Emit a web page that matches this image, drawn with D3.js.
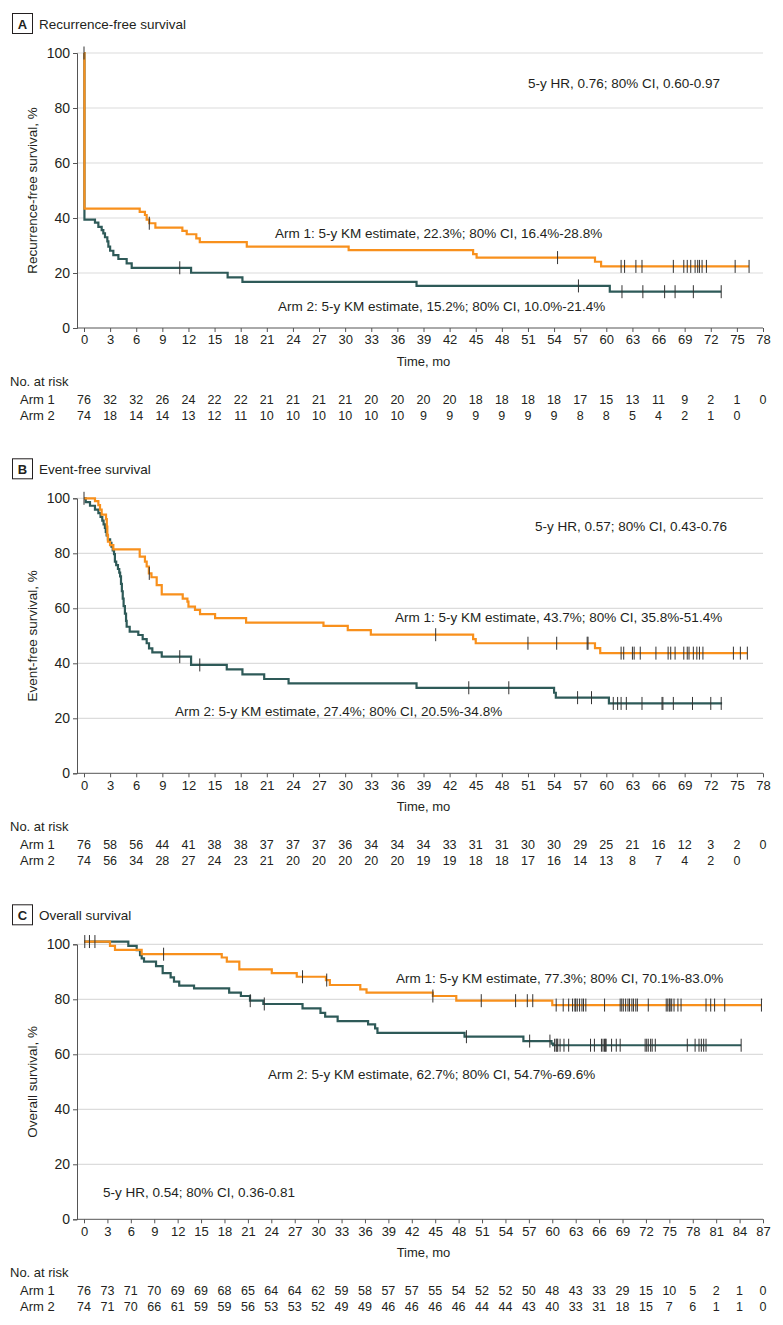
<!DOCTYPE html>
<html><head><meta charset="utf-8">
<script src="https://cdn.jsdelivr.net/npm/d3@7/dist/d3.min.js"></script>
<style>
body{margin:0;background:#fff}
svg{display:block}
text{font-family:"Liberation Sans",Arial,sans-serif;fill:#231f20}
</style>
</head><body>
<svg id="chart" width="783" height="1325"></svg>
<script>
// ---------- Data ----------
const ticks78 = [0,3,6,9,12,15,18,21,24,27,30,33,36,39,42,45,48,51,54,57,60,63,66,69,72,75,78];
const ticks87 = [0,3,6,9,12,15,18,21,24,27,30,33,36,39,42,45,48,51,54,57,60,63,66,69,72,75,78,81,84,87];
const yTicks = [0,20,40,60,80,100];

// Panel A: Recurrence-free survival  [time (mo), survival %]
const rfsArm1 = [[0,100],[0.05,43.4],[6.4,42.2],[7.0,41.1],[7.2,39.4],[7.5,38.1],[8.2,36.5],[11.3,35.3],[11.8,34.1],[12.9,32.6],[13.3,31.2],[18.7,29.6],[30.4,28.3],[44.7,26.9],[45.1,25.6],[58.7,24.1],[59.4,22.4],[76.4,22.4]];
const rfsArm2 = [[0,100],[0.05,39.4],[1.26,38.3],[1.65,36.8],[2.03,35.6],[2.22,34.4],[2.41,33.0],[2.68,31.5],[2.8,29.6],[3.0,28.1],[3.37,26.5],[3.95,25.1],[4.9,23.5],[5.48,21.9],[12.3,20.1],[16.5,18.4],[18.2,16.8],[38.2,15.3],[60.4,13.2],[73.2,13.2]];
const rfsCens1 = [7.5,54.4,61.7,62.1,63.4,64.1,67.7,68.9,69.3,69.7,70.2,70.5,70.7,71.0,71.5,74.8,76.4];
const rfsCens2 = [0,11.0,56.8,61.8,64.2,66.7,67.9,70.0,73.2];
const rfsRisk1 = [76,32,32,26,24,22,22,21,21,21,21,20,20,20,20,18,18,18,18,17,15,13,11,9,2,1,0];
const rfsRisk2 = [74,18,14,14,13,12,11,10,10,10,10,10,10,9,9,9,9,9,9,8,8,5,4,2,1,0];

// Panel B: Event-free survival
const efsArm1 = [[0,100],[1.26,99.0],[1.65,97.5],[1.84,95.9],[2.03,94.1],[2.53,92.4],[2.62,89.7],[2.68,86.7],[2.75,84.2],[2.99,83.0],[3.37,81.4],[6.4,78.8],[7.0,77.0],[7.2,75.2],[7.45,72.7],[7.75,71.3],[8.35,68.4],[8.93,65.1],[11.34,63.5],[11.88,62.4],[12.0,60.6],[12.75,59.4],[13.33,57.9],[15.06,56.4],[18.62,54.8],[27.51,53.6],[30.3,52.1],[32.95,50.4],[44.7,48.8],[45.0,47.3],[58.7,45.5],[59.3,43.7],[76.2,43.7]];
const efsArm2 = [[0,100],[0.2,98.6],[0.69,97.3],[1.26,95.9],[1.65,94.6],[1.9,93.2],[2.1,91.9],[2.25,90.5],[2.4,89.2],[2.5,87.8],[2.6,86.5],[2.75,85.1],[3.0,83.8],[3.15,82.4],[3.3,81.1],[3.45,79.7],[3.55,77.0],[3.7,75.7],[3.9,74.3],[4.05,73.0],[4.15,71.6],[4.25,68.9],[4.35,66.2],[4.45,63.5],[4.55,60.8],[4.7,58.1],[4.83,55.4],[4.9,53.3],[5.25,51.5],[6.24,50.3],[6.74,48.8],[7.2,47.3],[7.47,45.4],[7.85,44.0],[8.93,42.4],[12.3,39.4],[16.4,37.8],[18.2,36.0],[20.7,34.3],[23.5,32.7],[38.2,31.1],[54.0,29.3],[54.2,27.5],[60.3,25.4],[73.3,25.4]];
const efsCens1 = [7.5,40.4,51.0,54.3,57.8,57.9,61.7,62.0,63.0,63.2,63.9,65.7,67.1,67.4,67.9,68.9,69.3,69.5,70.0,70.4,70.7,71.1,74.6,75.4,76.2];
const efsCens2 = [0,11.0,13.3,44.2,48.8,56.7,58.3,60.8,61.3,61.7,62.3,64.1,66.4,66.5,67.7,69.9,72.0,73.2];
const efsRisk1 = [76,58,56,44,41,38,38,37,37,37,36,34,34,34,33,31,31,30,30,29,25,21,16,12,3,2,0];
const efsRisk2 = [74,56,34,28,27,24,23,21,20,20,20,20,20,19,19,18,18,17,16,14,13,8,7,4,2,0];

// Panel C: Overall survival
const osArm1 = [[0,101.0],[3.33,99.4],[3.97,98.0],[7.39,96.4],[17.65,95.2],[18.3,93.7],[19.9,90.9],[24.06,89.5],[27.26,88.2],[31.0,87.0],[31.5,85.2],[35.4,83.6],[36.2,82.4],[44.7,81.2],[47.7,79.5],[60.0,77.9],[86.8,77.9]];
const osArm2 = [[0,101.0],[5.68,99.4],[6.75,97.9],[7.18,96.1],[7.39,94.9],[7.69,93.7],[9.23,92.1],[10.08,89.5],[11.1,88.0],[11.53,86.4],[12.2,85.0],[14.1,84.0],[18.6,82.4],[20.1,81.2],[21.27,79.5],[22.98,78.3],[28.0,76.7],[30.3,75.1],[30.9,73.7],[32.5,72.1],[36.4,70.9],[37.3,69.4],[37.6,67.8],[48.76,66.4],[56.3,64.8],[59.9,63.9],[60.1,63.3],[84.2,63.3]];
const osCens1 = [10.2,28.0,31.1,44.7,50.9,55.3,56.8,57.5,60.5,61.4,62.1,62.6,62.9,63.0,63.2,63.5,63.8,64.0,64.3,66.7,68.7,68.9,69.1,69.4,69.7,69.9,70.2,70.4,70.7,70.9,72.3,74.6,74.8,75.0,75.1,75.3,75.6,76.1,76.5,79.7,80.3,80.8,82.1,86.8];
const osCens2 = [0.1,0.7,1.4,21.3,23.1,49.0,57.1,59.7,60.3,60.5,60.6,60.7,61.0,61.5,62.1,64.9,65.4,66.3,66.5,66.7,66.8,66.9,67.6,68.2,68.7,71.9,72.1,72.3,72.6,72.8,73.2,77.3,78.3,78.8,79.1,79.4,79.7,84.2];
const osRisk1 = [76,73,71,70,69,69,68,65,64,64,62,59,58,57,57,55,54,52,52,50,48,43,33,29,15,10,5,2,1,0];
const osRisk2 = [74,71,70,66,61,59,59,56,53,53,52,49,49,46,46,46,46,44,44,43,40,33,31,18,15,7,6,1,1,0];

// ---------- Layout ----------
const COL1 = "#f8901c", COL2 = "#2e5a58", CENS = "#333333";
const svg = d3.select("#chart");

const panels = [
  {letter:"A", title:"Recurrence-free survival", ylab:"Recurrence-free survival, %",
   top:53, bottom:328, xmax:78, ticks:ticks78,
   arm1:rfsArm1, arm2:rfsArm2, c1:rfsCens1, c2:rfsCens2, r1:rfsRisk1, r2:rfsRisk2,
   notes:[{t:"5-y HR, 0.76; 80% CI, 0.60-0.97", x:528, y:88},
          {t:"Arm 1: 5-y KM estimate, 22.3%; 80% CI, 16.4%-28.8%", x:275, y:238},
          {t:"Arm 2: 5-y KM estimate, 15.2%; 80% CI, 10.0%-21.4%", x:278, y:311}]},
  {letter:"B", title:"Event-free survival", ylab:"Event-free survival, %",
   top:498.3, bottom:773.3, xmax:78, ticks:ticks78,
   arm1:efsArm1, arm2:efsArm2, c1:efsCens1, c2:efsCens2, r1:efsRisk1, r2:efsRisk2,
   notes:[{t:"5-y HR, 0.57; 80% CI, 0.43-0.76", x:535, y:531},
          {t:"Arm 1: 5-y KM estimate, 43.7%; 80% CI, 35.8%-51.4%", x:395, y:622},
          {t:"Arm 2: 5-y KM estimate, 27.4%; 80% CI, 20.5%-34.8%", x:175, y:716}]},
  {letter:"C", title:"Overall survival", ylab:"Overall survival, %",
   top:944.3, bottom:1219.3, xmax:87, ticks:ticks87,
   arm1:osArm1, arm2:osArm2, c1:osCens1, c2:osCens2, r1:osRisk1, r2:osRisk2,
   notes:[{t:"5-y HR, 0.54; 80% CI, 0.36-0.81", x:103, y:1197},
          {t:"Arm 1: 5-y KM estimate, 77.3%; 80% CI, 70.1%-83.0%", x:396, y:983},
          {t:"Arm 2: 5-y KM estimate, 62.7%; 80% CI, 54.7%-69.6%", x:268, y:1079}]}
];

const axisX = 77, xLeft = 84, xRight = 763;

function stepValue(data, t){
  let v = data[0][1];
  for (const d of data){ if (d[0] <= t) v = d[1]; else break; }
  return v;
}

panels.forEach(p => {
  const g = svg.append("g");
  const x = d3.scaleLinear().domain([0, p.xmax]).range([xLeft, xRight]);
  const y = d3.scaleLinear().domain([0, 100]).range([p.bottom, p.top]);

  // panel label box + title
  g.append("rect").attr("x",12.5).attr("y",p.top-39.5).attr("width",20).attr("height",20)
    .attr("fill","none").attr("stroke","#231f20").attr("stroke-width",1);
  g.append("text").attr("x",22.5).attr("y",p.top-24.5).attr("text-anchor","middle")
    .attr("font-weight","bold").attr("font-size",13).text(p.letter);
  g.append("text").attr("x",39).attr("y",p.top-24.5).attr("font-size",13.5).text(p.title);

  // grid
  g.selectAll("line.grid").data(yTicks.filter(d=>d>0)).join("line")
    .attr("x1",axisX).attr("x2",xRight).attr("y1",d=>y(d)).attr("y2",d=>y(d))
    .attr("stroke","#dcdcdc").attr("stroke-width",1.2);

  // y axis
  const ya = g.append("g").attr("transform",`translate(${axisX},0)`)
    .call(d3.axisLeft(y).tickValues(yTicks).tickSize(4).tickPadding(3));
  ya.select(".domain").attr("stroke","#555");
  ya.selectAll(".tick line").attr("stroke","#555");
  ya.selectAll("text").attr("font-size",14).attr("font-family","Liberation Sans, Arial, sans-serif").attr("fill","#231f20");

  // x axis
  const xa = g.append("g").attr("transform",`translate(0,${p.bottom})`)
    .call(d3.axisBottom(x).tickValues(p.ticks).tickSize(4).tickPadding(3));
  xa.select(".domain").remove();
  g.append("line").attr("x1",axisX).attr("x2",xRight).attr("y1",p.bottom).attr("y2",p.bottom)
    .attr("stroke","#555");
  xa.selectAll(".tick line").attr("stroke","#555");
  xa.selectAll("text").attr("font-size",13).attr("font-family","Liberation Sans, Arial, sans-serif").attr("fill","#231f20");

  // axis titles
  g.append("text").attr("transform",`translate(32,${(p.top+p.bottom)/2}) rotate(-90)`)
    .attr("text-anchor","middle").attr("dy","0.35em").attr("font-size",13.5).text(p.ylab);
  g.append("text").attr("x",(xLeft+xRight)/2).attr("y",p.bottom+38).attr("text-anchor","middle")
    .attr("font-size",13).text("Time, mo");

  // curves
  const line = d3.line().x(d=>x(d[0])).y(d=>y(d[1])).curve(d3.curveStepAfter);
  g.append("path").datum(p.arm2).attr("d",line).attr("fill","none").attr("stroke",COL2).attr("stroke-width",2.2);
  g.append("path").datum(p.arm1).attr("d",line).attr("fill","none").attr("stroke",COL1).attr("stroke-width",2.2);

  // censor marks
  const cens = [...p.c2.map(t=>({t, v:stepValue(p.arm2,t)})), ...p.c1.map(t=>({t, v:stepValue(p.arm1,t)}))];
  g.selectAll("line.cens").data(cens).join("line")
    .attr("x1",d=>x(d.t)).attr("x2",d=>x(d.t))
    .attr("y1",d=>y(d.v)-6.5).attr("y2",d=>y(d.v)+6.5)
    .attr("stroke",CENS).attr("stroke-width",1);

  // annotations
  p.notes.forEach(n => g.append("text").attr("x",n.x).attr("y",n.y).attr("font-size",13.5).text(n.t));

  // risk table
  g.append("text").attr("x",10).attr("y",p.bottom+58).attr("font-size",13).text("No. at risk");
  g.append("text").attr("x",20).attr("y",p.bottom+76).attr("font-size",13).text("Arm 1");
  g.append("text").attr("x",20).attr("y",p.bottom+92).attr("font-size",13).text("Arm 2");
  g.selectAll("text.r1").data(p.r1).join("text").attr("class","r1")
    .attr("x",(d,i)=>x(p.ticks[i])).attr("y",p.bottom+76).attr("text-anchor","middle")
    .attr("font-size",12.5).text(d=>d);
  g.selectAll("text.r2").data(p.r2).join("text").attr("class","r2")
    .attr("x",(d,i)=>x(p.ticks[i])).attr("y",p.bottom+92).attr("text-anchor","middle")
    .attr("font-size",12.5).text(d=>d);
});
</script>
</body></html>
